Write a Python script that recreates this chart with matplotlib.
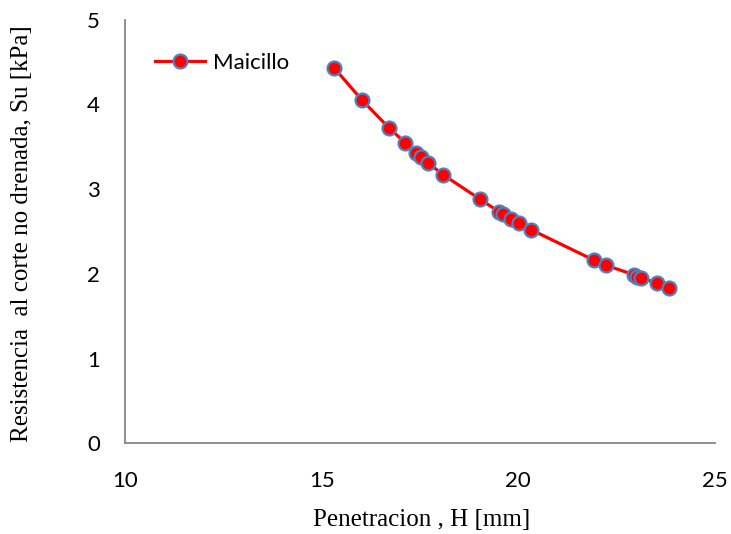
import matplotlib
matplotlib.use("Agg")
import matplotlib.pyplot as plt

# Penetration (mm) vs undrained shear strength (kPa)
penetracion = [15.32, 16.03, 16.72, 17.12, 17.40, 17.53, 17.71, 18.09,
               19.03, 19.52, 19.62, 19.82, 20.03, 20.33,
               21.93, 22.24, 22.93, 23.03, 23.13, 23.54, 23.84]
resistencia = [4.43, 4.05, 3.72, 3.55, 3.43, 3.38, 3.31, 3.17,
               2.88, 2.73, 2.71, 2.65, 2.60, 2.52,
               2.16, 2.10, 1.99, 1.96, 1.95, 1.89, 1.83]
serie = "Maicillo"
x_ticks = [10, 15, 20, 25]
y_ticks = [0, 1, 2, 3, 4, 5]

fig = plt.figure(figsize=(7.31, 5.34), dpi=100)
ax = fig.add_axes([0.171, 0.170, 0.807, 0.793])

ax.plot(penetracion, resistencia, color="#ff0000", lw=2.3,
        marker="o", markersize=10, markerfacecolor="#ff0000",
        markeredgecolor="#4f81bd", markeredgewidth=1.6, label=serie)

ax.set_xlim(10, 25)
ax.set_ylim(0, 5)
ax.set_xticks(x_ticks)
ax.set_yticks(y_ticks)

tick_font = {"family": "Lato", "size": 16}
ax.set_xticklabels([str(t) for t in x_ticks], fontdict=tick_font)
ax.set_yticklabels([str(t) for t in y_ticks], fontdict=tick_font)
ax.tick_params(axis="x", length=0, pad=20)
ax.tick_params(axis="y", length=0, pad=18)

for side in ("top", "right"):
    ax.spines[side].set_visible(False)
for side in ("left", "bottom"):
    ax.spines[side].set_color("#868686")
    ax.spines[side].set_linewidth(1.3)

ax.set_xlabel("Penetracion , H [mm]", family="Liberation Serif", fontsize=18,
              va="center")
ax.xaxis.set_label_coords(0.503, -0.182)
ax.set_ylabel("Resistencia  al corte no drenada, Su [kPa]", family="Liberation Serif",
              fontsize=18, va="center")
ax.yaxis.set_label_coords(-0.175, 0.496)

leg = ax.legend(loc="center left", bbox_to_anchor=(0.051, 0.898), frameon=False,
                prop={"family": "Lato", "size": 16}, handlelength=2.25,
                handletextpad=0.35, borderpad=0, borderaxespad=0)

fig.savefig("out.png", dpi=100)
